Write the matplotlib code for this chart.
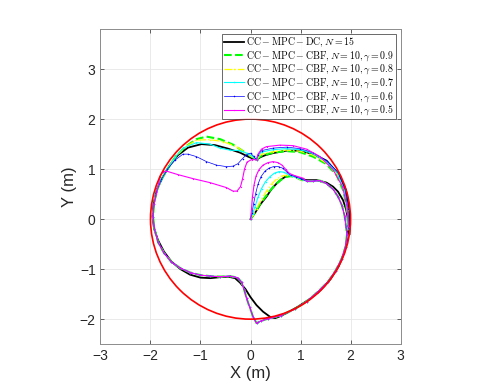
import numpy as np
import matplotlib
matplotlib.use('Agg')
import matplotlib.pyplot as plt
from matplotlib.patches import Circle

plt.rcParams['mathtext.fontset'] = 'cm'
plt.rcParams['font.family'] = ['Liberation Sans', 'DejaVu Sans']

# ---------------- data ----------------
circle_radius = 2.0
x_ticks = [-3, -2, -1, 0, 1, 2, 3]
y_ticks = [-2, -1, 0, 1, 2, 3]

labels = [r'$\mathrm{CC-MPC-DC}, N = 15$',
          r'$\mathrm{CC-MPC-CBF}, N = 10, \gamma = 0.9$',
          r'$\mathrm{CC-MPC-CBF}, N = 10, \gamma = 0.8$',
          r'$\mathrm{CC-MPC-CBF}, N = 10, \gamma = 0.7$',
          r'$\mathrm{CC-MPC-CBF}, N = 10, \gamma = 0.6$',
          r'$\mathrm{CC-MPC-CBF}, N = 10, \gamma = 0.5$']

# DC trajectory (N = 15)
dc_x = [0, 0.1, 0.2, 0.32, 0.42, 0.52, 0.62, 0.72, 0.85, 0.99, 1.12, 1.32, 1.52, 1.65, 1.75, 1.85, 1.91, 1.95, 1.95, 1.93,
        1.87, 1.76, 1.6, 1.4, 1.18, 0.95, 0.72, 0.55, 0.49,
        0.40, 0.25, 0.12, 0.0, -0.1, -0.21, -0.31, -0.45, -0.6, -0.8, -1.0, -1.21, -1.4, -1.58, -1.73, -1.85, -1.93,
        -1.96, -1.94, -1.87, -1.75, -1.6, -1.45, -1.25, -0.98, -0.71, -0.45, -0.21, -0.05, 0.05, 0.12,
        0.2, 0.3, 0.45, 0.72, 0.99, 1.25, 1.52, 1.75, 1.91, 1.97, 1.99, 1.98]
dc_y = [0, 0.14, 0.3, 0.45, 0.6, 0.71, 0.8, 0.86, 0.87, 0.81, 0.78, 0.78, 0.73, 0.65, 0.55, 0.38, 0.2, 0.0, -0.2, -0.45,
        -0.68, -0.95, -1.2, -1.42, -1.6, -1.75, -1.88, -1.96, -1.98,
        -1.96, -1.85, -1.72, -1.56, -1.4, -1.27, -1.18, -1.15, -1.16, -1.18, -1.17, -1.11, -1.0, -0.85, -0.65, -0.42, -0.18,
        0.05, 0.3, 0.6, 0.85, 1.1, 1.28, 1.43, 1.5, 1.48, 1.41, 1.33, 1.25, 1.21, 1.19,
        1.24, 1.28, 1.32, 1.37, 1.37, 1.3, 1.17, 0.91, 0.58, 0.25, -0.05, -0.3]

# CBF: shared right part of the inner hump
mid_x = [1.12, 1.25, 1.39, 1.52, 1.65, 1.75, 1.83, 1.88, 1.91]
mid_y = [0.76, 0.76, 0.77, 0.71, 0.6, 0.45, 0.27, 0.07, -0.15]

# CBF: shared lower loop (right side, bottom, left side)
low_x = [1.93, 1.9, 1.82, 1.7, 1.55, 1.35, 1.12, 0.88, 0.6, 0.35, 0.2, 0.12, 0.05, -0.02, -0.08, -0.13, -0.18,
         -0.26, -0.41, -0.6, -0.8, -1.0, -1.2, -1.4, -1.58, -1.73, -1.85, -1.92, -1.95, -1.93]
low_y = [-0.3, -0.55, -0.8, -1.03, -1.25, -1.45, -1.65, -1.8, -1.93, -1.99, -2.04, -2.08, -1.95, -1.75, -1.58, -1.4, -1.26,
         -1.17, -1.14, -1.15, -1.14, -1.12, -1.07, -0.98, -0.86, -0.68, -0.46, -0.2, 0.05, 0.3]

# gamma = 0.9
g9_in_x = [0, 0.1, 0.19, 0.3, 0.39, 0.5, 0.6, 0.7, 0.8, 0.9, 1.0]
g9_in_y = [0, 0.15, 0.3, 0.45, 0.57, 0.69, 0.78, 0.84, 0.86, 0.84, 0.79]
g9_top_x = [-1.88, -1.78, -1.65, -1.5, -1.3, -1.08, -0.88, -0.61, -0.35, -0.15, 0.02, 0.12]
g9_top_y = [0.55, 0.8, 1.02, 1.25, 1.45, 1.6, 1.65, 1.6, 1.49, 1.36, 1.25, 1.19]
g9_out_x = [0.15, 0.22, 0.45, 0.72, 0.99, 1.25, 1.52, 1.72, 1.86, 1.93, 1.95]
g9_out_y = [1.22, 1.27, 1.33, 1.36, 1.34, 1.25, 1.1, 0.88, 0.56, 0.18, -0.2]

# gamma = 0.8
g8_in_x = [0, 0.05, 0.12, 0.22, 0.32, 0.42, 0.52, 0.62, 0.72, 0.8, 0.9, 1.0]
g8_in_y = [0, 0.09, 0.21, 0.4, 0.56, 0.7, 0.8, 0.86, 0.88, 0.87, 0.84, 0.79]
g8_top_x = [-1.88, -1.78, -1.65, -1.5, -1.3, -1.08, -0.81, -0.55, -0.28, -0.08, 0.12]
g8_top_y = [0.55, 0.8, 1.02, 1.25, 1.45, 1.58, 1.59, 1.55, 1.45, 1.31, 1.19]
g8_out_x = [0.15, 0.22, 0.45, 0.72, 0.99, 1.25, 1.52, 1.73, 1.87, 1.94, 1.95]
g8_out_y = [1.24, 1.3, 1.35, 1.38, 1.36, 1.28, 1.12, 0.9, 0.57, 0.18, -0.2]

# gamma = 0.7
g7_in_x = [0, 0.04, 0.09, 0.15, 0.22, 0.3, 0.39, 0.48, 0.57, 0.66, 0.74, 0.82, 0.9, 1.0]
g7_in_y = [0, 0.1, 0.25, 0.44, 0.61, 0.75, 0.85, 0.92, 0.95, 0.94, 0.9, 0.86, 0.84, 0.8]
g7_top_x = [-1.88, -1.78, -1.65, -1.5, -1.35, -1.08, -0.81, -0.61, -0.41, -0.21, -0.08, 0.05, 0.12]
g7_top_y = [0.55, 0.8, 1.02, 1.25, 1.42, 1.53, 1.5, 1.42, 1.38, 1.37, 1.32, 1.25, 1.19]
g7_out_x = [0.15, 0.22, 0.45, 0.72, 0.99, 1.25, 1.52, 1.74, 1.88, 1.94, 1.95]
g7_out_y = [1.27, 1.34, 1.39, 1.41, 1.39, 1.31, 1.15, 0.92, 0.58, 0.2, -0.2]

# gamma = 0.6
g6_in_x = [0, 0.03, 0.06, 0.1, 0.15, 0.21, 0.29, 0.37, 0.46, 0.56, 0.64, 0.72, 0.8, 0.9, 1.0]
g6_in_y = [0, 0.12, 0.3, 0.5, 0.7, 0.85, 0.96, 1.02, 1.05, 1.05, 1.02, 0.95, 0.88, 0.85, 0.81]
g6_top_x = [-1.88, -1.78, -1.66, -1.51, -1.35, -1.25, -1.08, -0.88, -0.68, -0.48, -0.35, -0.25, -0.16, -0.08, 0.0,
            0.06, 0.12]
g6_top_y = [0.55, 0.8, 1.0, 1.18, 1.3, 1.3, 1.25, 1.15, 1.08, 1.05, 1.06, 1.11, 1.21, 1.29, 1.32, 1.26, 1.19]
g6_out_x = [0.15, 0.22, 0.45, 0.72, 0.99, 1.25, 1.52, 1.75, 1.89, 1.95, 1.96]
g6_out_y = [1.29, 1.37, 1.42, 1.44, 1.41, 1.33, 1.17, 0.94, 0.6, 0.2, -0.2]

# gamma = 0.5
g5_in_x = [0, 0.02, 0.04, 0.07, 0.11, 0.17, 0.25, 0.35, 0.45, 0.55, 0.63, 0.7, 0.77, 0.85, 0.95, 1.05]
g5_in_y = [0, 0.2, 0.45, 0.68, 0.86, 0.99, 1.08, 1.13, 1.15, 1.13, 1.08, 1.0, 0.92, 0.88, 0.85, 0.82]
g5_top_x = [-1.88, -1.81, -1.75, -1.68, -1.45, -1.15, -0.81, -0.48, -0.35, -0.27, -0.2, -0.16, -0.12, -0.07, 0.02,
            0.12]
g5_top_y = [0.5, 0.85, 0.95, 0.96, 0.89, 0.81, 0.73, 0.63, 0.56, 0.56, 0.65, 0.8, 1.0, 1.14, 1.19, 1.19]
g5_out_x = [0.15, 0.22, 0.32, 0.59, 0.85, 1.12, 1.39, 1.65, 1.84, 1.93, 1.96]
g5_out_y = [1.3, 1.4, 1.45, 1.48, 1.47, 1.4, 1.25, 0.99, 0.65, 0.25, -0.15]

cbf_parts = [
    (g9_in_x, g9_in_y, g9_top_x, g9_top_y, g9_out_x, g9_out_y),
    (g8_in_x, g8_in_y, g8_top_x, g8_top_y, g8_out_x, g8_out_y),
    (g7_in_x, g7_in_y, g7_top_x, g7_top_y, g7_out_x, g7_out_y),
    (g6_in_x, g6_in_y, g6_top_x, g6_top_y, g6_out_x, g6_out_y),
    (g5_in_x, g5_in_y, g5_top_x, g5_top_y, g5_out_x, g5_out_y),
]

# ---------------- styles ----------------
styles = [
    dict(color=(0, 1, 0), ls='--', lw=1.5),
    dict(color=(1, 1, 0), ls='-.', lw=0.9, marker='.', ms=2.2, mew=0),
    dict(color=(0, 1, 1), ls='-', lw=0.8, marker='.', ms=2.2, mew=0),
    dict(color=(0, 0, 1), ls='-', lw=0.5, marker='.', ms=2.2, mew=0),
    dict(color=(1, 0, 1), ls='-', lw=0.8, marker='.', ms=1.8, mew=0),
]

fig = plt.figure(figsize=(4.85, 3.88), dpi=100)
ax = fig.add_axes([0.206, 0.113, 0.621, 0.812])

ax.plot(dc_x, dc_y, color='k', lw=1.3, label=labels[0], zorder=3)
for i, (ix, iy, tx, ty, ox, oy) in enumerate(cbf_parts):
    xs = list(ix) + list(mid_x) + list(low_x) + list(tx) + list(ox)
    ys = list(iy) + list(mid_y) + list(low_y) + list(ty) + list(oy)
    ax.plot(xs, ys, label=labels[i + 1], zorder=4 + i, **styles[i])

ax.add_patch(Circle((0, 0), circle_radius, fill=False, ec='red', lw=1.2, zorder=10))

ax.set_xlim(-3, 3)
ax.set_ylim(-2.5, 3.8)
ax.set_aspect('equal')
ax.set_xticks(x_ticks)
ax.set_yticks(y_ticks)
ax.grid(True, color='#e6e6e6', lw=0.6)
ax.set_axisbelow(True)
ax.tick_params(direction='in', top=True, right=True, length=3, width=0.5,
               labelsize=10, colors='#262626')
for s in ax.spines.values():
    s.set_color('#8c8c8c')
    s.set_linewidth(0.7)
ax.set_xlabel('X (m)', fontsize=12, color='#262626', labelpad=2)
ax.set_ylabel('Y (m)', fontsize=12, color='#262626', labelpad=2)

leg = ax.legend(loc='upper right', fontsize=7.1, frameon=True, fancybox=False,
                edgecolor='#262626', borderaxespad=0.45, handlelength=2.0,
                labelspacing=0.0, borderpad=0.2, handletextpad=0.2)
leg.get_frame().set_linewidth(0.6)
leg.set_zorder(20)

fig.savefig('out.png', dpi=100)
